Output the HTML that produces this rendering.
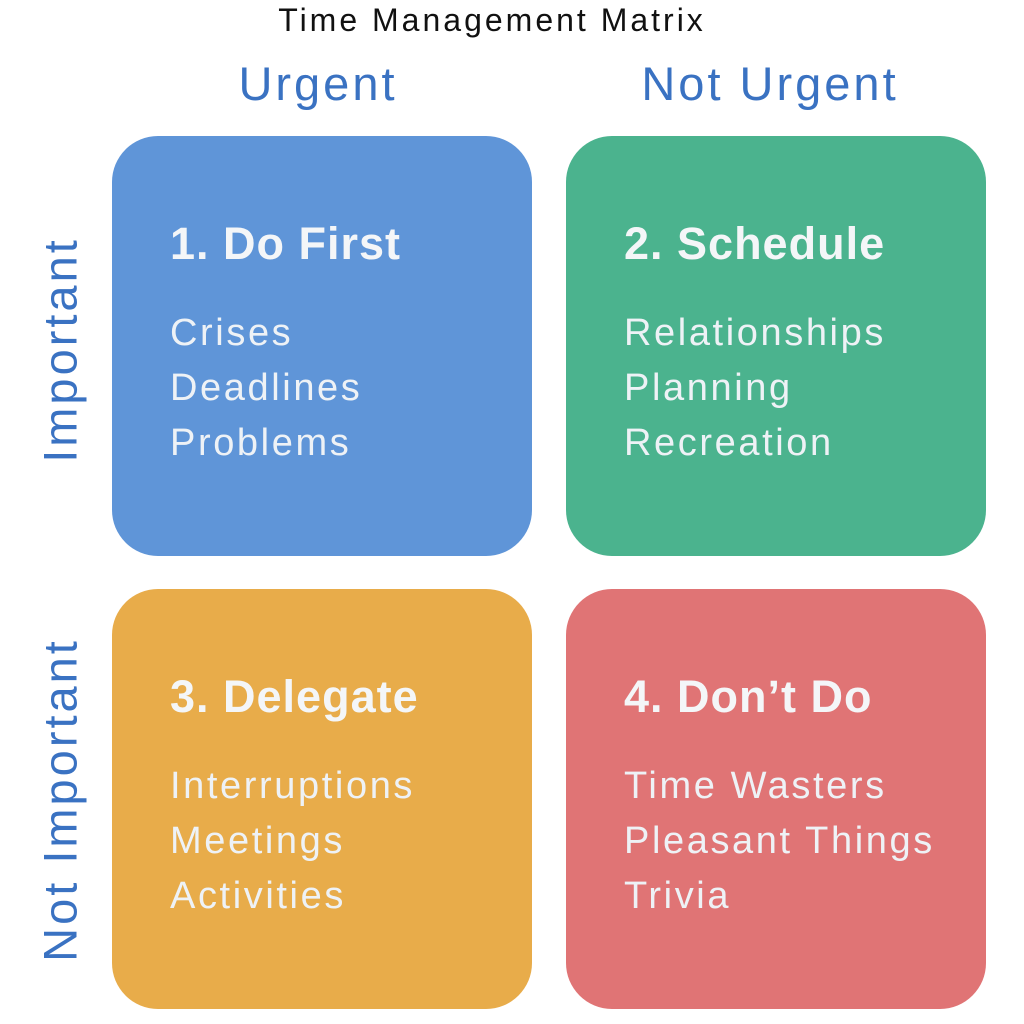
<!DOCTYPE html>
<html><head><meta charset="utf-8"><style>
body{margin:0;width:1024px;height:1024px;background:#fff;position:relative;overflow:hidden;font-family:"Liberation Sans",sans-serif}
.t{position:absolute;white-space:nowrap}
.box{position:absolute;width:420px;height:420px;border-radius:46px}
.h{position:absolute;left:58px;top:82px;font-size:45px;font-weight:bold;color:#f4f6f8;letter-spacing:1px}
.it{position:absolute;left:58px;top:170px;font-size:38px;line-height:55px;color:#eef2f6;letter-spacing:2.6px}
.lab{color:#3a72c2;font-size:47px;letter-spacing:3px}
</style></head><body>
<div class="t" style="left:0;width:984px;text-align:center;top:2px;font-size:32px;color:#111;letter-spacing:3px">Time Management Matrix</div>
<div class="t lab" style="left:168px;width:300px;text-align:center;top:56px">Urgent</div>
<div class="t lab" style="left:570px;width:400px;text-align:center;top:56px">Not Urgent</div>
<div class="t lab" style="left:60px;top:350px;transform:translate(-50%,-50%) rotate(-90deg)">Important</div>
<div class="t lab" style="left:60px;top:800px;transform:translate(-50%,-50%) rotate(-90deg)">Not Important</div>
<div class="box" style="left:112px;top:136px;background:#5f95d8"><div class="h">1. Do First</div><div class="it">Crises<br>Deadlines<br>Problems</div></div>
<div class="box" style="left:566px;top:136px;background:#4bb38e"><div class="h">2. Schedule</div><div class="it">Relationships<br>Planning<br>Recreation</div></div>
<div class="box" style="left:112px;top:589px;background:#e8ac4a"><div class="h">3. Delegate</div><div class="it">Interruptions<br>Meetings<br>Activities</div></div>
<div class="box" style="left:566px;top:589px;background:#e07475"><div class="h">4. Don’t Do</div><div class="it">Time Wasters<br>Pleasant Things<br>Trivia</div></div>
</body></html>
